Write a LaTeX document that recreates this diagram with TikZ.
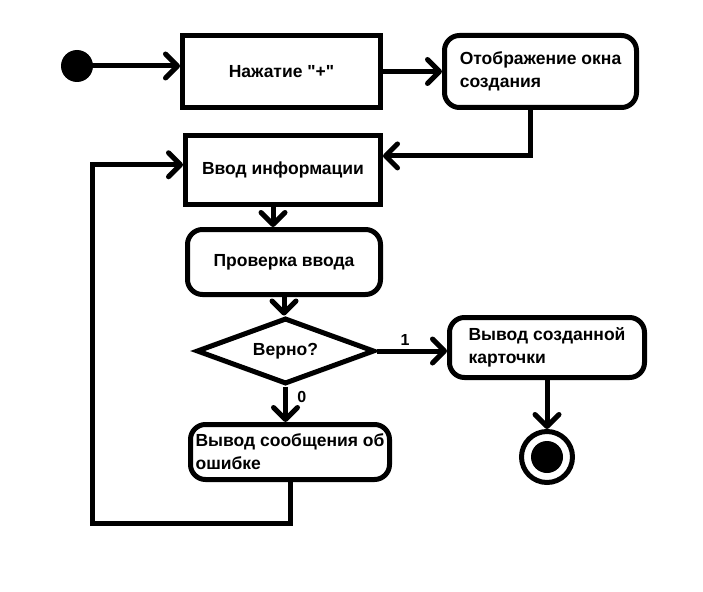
\documentclass[tikz,border=0pt]{standalone}
\usepackage{fontspec}
\setmainfont{Liberation Sans}[Ligatures=TeXOff]
\usepackage{tikz}
\usetikzlibrary{arrows.meta,positioning,shapes.geometric}

\begin{document}
\begin{tikzpicture}[x=1pt,y=-1pt,line width=5pt,
  flow/.style={-{Straight Barb[length=12pt,width=24pt,round]}},
  actbox/.style={draw,align=left,inner sep=2pt,font=\bfseries\fontsize{17.5}{23}\selectfont},
  softbox/.style={actbox,rounded corners=15pt},
  lbl/.style={font=\bfseries\fontsize{16}{19}\selectfont}]
  \useasboundingbox (0,0) rectangle (703,591);
  \node[circle,fill,minimum size=32pt,inner sep=0pt] (start) at (77,66){};
  \node[actbox,minimum width=198pt,minimum height=72pt] (press) at (281.5,71.5){Нажатие "+"};
  \node[softbox,minimum width=192pt,minimum height=72pt] (show) at (540.5,71.5){Отображение окна\\создания};
  \node[actbox,minimum width=195pt,minimum height=69pt] (input) at (283,170){Ввод информации};
  \node[softbox,minimum width=193pt,minimum height=65pt] (verify) at (284,262){Проверка ввода};
  \node[actbox,draw,diamond,aspect=2.6,minimum width=178pt,minimum height=66pt,inner sep=0pt] (check) at (285.5,351){Верно?};
  \node[softbox,minimum width=195pt,minimum height=60pt] (card) at (547,347.5){Вывод созданной\\карточки};
  \node[softbox,minimum width=199pt,minimum height=55pt] (error) at (290,452){Вывод сообщения об\\ошибке};
  \node[circle,draw,minimum size=51pt,inner sep=0pt] (stop) at (547,457){};
  \node[circle,fill,minimum size=32pt,inner sep=0pt] (stopdot) at (stop){};
  \coordinate (loop) at (92,523);
  \draw[flow] (start.center) -- (start -| press.west);
  \draw[flow] (press.east) -- (press.east -| show.west);
  \draw[flow] ([xshift=-10pt]show.south) |- (input.8);
  \draw[flow] ([xshift=-10pt]input.south) -- ([xshift=-10pt]input.south |- verify.north);
  \draw[flow] (verify.south) -- (verify.south |- check.north);
  \draw[flow] (check.east) -- (check.east -| card.west) node[lbl,pos=0.4,above]{1};
  \draw[flow] (check.south) -- (check.south |- error.north) node[lbl,pos=0.3,right=6pt]{0};
  \draw[flow] (card) -- (stop);
  \draw[flow] (error.south) |- (loop) |- (input.177);
\end{tikzpicture}
\end{document}
